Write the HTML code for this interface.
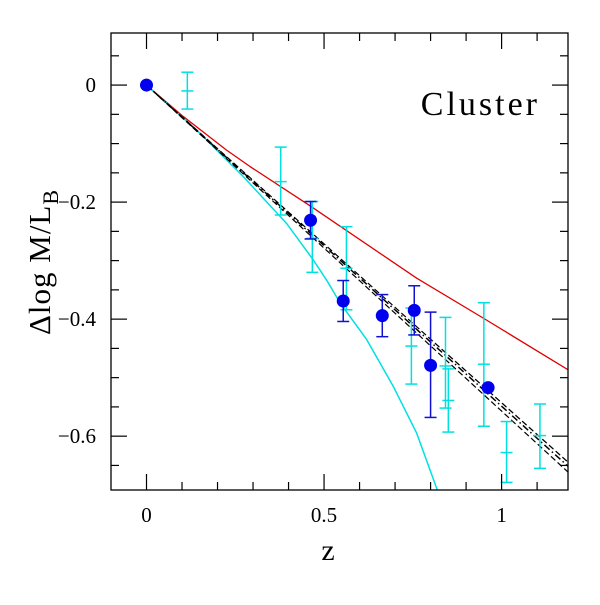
<!DOCTYPE html>
<html><head><meta charset="utf-8"><style>
html,body{margin:0;padding:0;background:#fff;}
svg text{font-family:"Liberation Serif",serif;fill:#000;}
</style></head><body>
<svg id="chart" width="600" height="600" viewBox="0 0 600 600" xmlns="http://www.w3.org/2000/svg">
<g id="plot"></g>
</svg>
<script>
const blueX=[0,0.462,0.554,0.664,0.754,0.800,0.962];
const blueY=[0,-0.231,-0.369,-0.394,-0.385,-0.479,-0.517];
const blueTop=[null,-0.199,-0.334,-0.358,-0.343,-0.388,null];
const blueBot=[null,-0.263,-0.404,-0.430,-0.427,-0.568,null];
const cyanX=[0.115,0.378,0.467,0.563,0.746,0.842,0.850,0.950,1.014,1.108];
const cyanY=[-0.010,-0.165,-0.262,-0.313,-0.446,-0.480,-0.539,-0.477,-0.628,-0.599];
const cyanTop=[0.022,-0.106,-0.199,-0.242,-0.381,-0.397,-0.485,-0.372,-0.575,-0.545];
const cyanBot=[-0.041,-0.222,-0.320,-0.384,-0.511,-0.552,-0.593,-0.583,-0.679,-0.655];
const redX=[0,0.1,0.225,0.291,0.462,0.761,0.948,1.188];
const redY=[0,-0.052,-0.111,-0.139,-0.207,-0.330,-0.398,-0.487];
const cyanLineX=[0,0.150,0.272,0.394,0.469,0.510,0.545,0.620,0.695,0.761,0.819];
const cyanLineY=[0,-0.082,-0.156,-0.236,-0.298,-0.336,-0.372,-0.435,-0.515,-0.595,-0.692];
const blackX=[0,1.188];
const dashDotY=[0,-0.652];
const dashAY=[0,-0.645];
const dashBY=[0,-0.662];
const xTicks=[0,0.5,1];
const xTickLabels=["0","0.5","1"];
const yTicks=[0,-0.2,-0.4,-0.6];
const yTickLabels=["0","\u22120.2","\u22120.4","\u22120.6"];

const L=111,R=568,T=33,B=490;
const XMIN=-0.1,XMAX=1.187,YMIN=-0.692,YMAX=0.089;
const sx=v=>L+(v-XMIN)/(XMAX-XMIN)*(R-L);
const sy=v=>B-(v-YMIN)/(YMAX-YMIN)*(B-T);
const NS="http://www.w3.org/2000/svg";
const svg=document.getElementById('chart');
function mk(tag,attrs,parent){const e=document.createElementNS(NS,tag);for(const k in attrs)e.setAttribute(k,attrs[k]);(parent||svg).appendChild(e);return e;}

const defs=mk('defs',{});
const cp=mk('clipPath',{id:'clip'},defs);
mk('rect',{x:L,y:T,width:R-L,height:B-T},cp);
const g=mk('g',{'clip-path':'url(#clip)'});



function line(xs,ys,color,w,dash,name){
  const d=xs.map((x,i)=>(i?'L':'M')+sx(x).toFixed(1)+','+sy(ys[i]).toFixed(1)).join(' ');
  const p=mk('path',{d:d,fill:'none',stroke:color,'stroke-width':w,'stroke-linejoin':'round'},g);
  if(dash)p.setAttribute('stroke-dasharray',dash);
  
  
}
line(redX,redY,'#e00000',1.3,null,'red-model-line');
line(cyanLineX,cyanLineY,'#00e0e0',1.5,null,'cyan-model-line');
line(blackX,dashAY,'#000',1.2,'6,3','dashed-line-a');
line(blackX,dashBY,'#000',1.2,'6,3','dashed-line-b');
line(blackX,dashDotY,'#000',1.5,'7,3,1.5,3','dash-dot-line');

function errbar(x,y,t,b,color,name){
  const e=mk('g',{stroke:color,'stroke-width':1.5},g);
  
  
  const X=sx(x);
  mk('line',{x1:X,x2:X,y1:sy(t),y2:sy(b)},e);
  mk('line',{x1:X-6,x2:X+6,y1:sy(t),y2:sy(t)},e);
  mk('line',{x1:X-6,x2:X+6,y1:sy(b),y2:sy(b)},e);
  mk('line',{x1:X-6,x2:X+6,y1:sy(y),y2:sy(y)},e);
}
cyanX.forEach((x,i)=>errbar(x,cyanY[i],cyanTop[i],cyanBot[i],'#00e0e0','cyan-error-bar'));
blueX.forEach((x,i)=>{
  if(blueTop[i]!==null)errbar(x,blueY[i],blueTop[i],blueBot[i],'#1010d0','blue-error-bar');
  const c=mk('circle',{cx:sx(x),cy:sy(blueY[i]),r:6.5,fill:'#0000ee'},g);
  
  
});

const fr=mk('rect',{x:L,y:T,width:R-L,height:B-T,fill:'none',stroke:'#000','stroke-width':1.3});


const tk=mk('g',{stroke:'#000','stroke-width':1.2});


for(let i=0;i<=11;i++){const v=i/10;const X=sx(v);const len=(i%5==0)?16:8;
  mk('line',{x1:X,x2:X,y1:B,y2:B-len},tk);mk('line',{x1:X,x2:X,y1:T,y2:T+len},tk);}
for(let i=-13;i<=1;i++){const v=i*0.05;const Y=sy(v);const len=(i%4==0)?16:8;
  mk('line',{x1:L,x2:L+len,y1:Y,y2:Y},tk);mk('line',{x1:R,x2:R-len,y1:Y,y2:Y},tk);}
xTicks.forEach((v,i)=>{const t=mk('text',{x:sx(v),y:522,'font-size':21,'text-anchor':'middle'});t.textContent=xTickLabels[i];
  });
yTicks.forEach((v,i)=>{const t=mk('text',{x:96,y:sy(v)+7,'font-size':21,'text-anchor':'end'});t.textContent=yTickLabels[i];
  });
const xt=mk('text',{x:328,y:560,'font-size':30,'text-anchor':'middle'});xt.textContent='z';

const yt=mk('text',{transform:'translate(50,262) rotate(-90)','font-size':31,'text-anchor':'middle','letter-spacing':'1'});

yt.innerHTML='\u0394log M/L<tspan dy="8" font-size="22">B</tspan>';
const cl=mk('text',{x:540,y:115,'font-size':34,'text-anchor':'end','letter-spacing':'3'});cl.textContent='Cluster';

</script>
</body></html>
